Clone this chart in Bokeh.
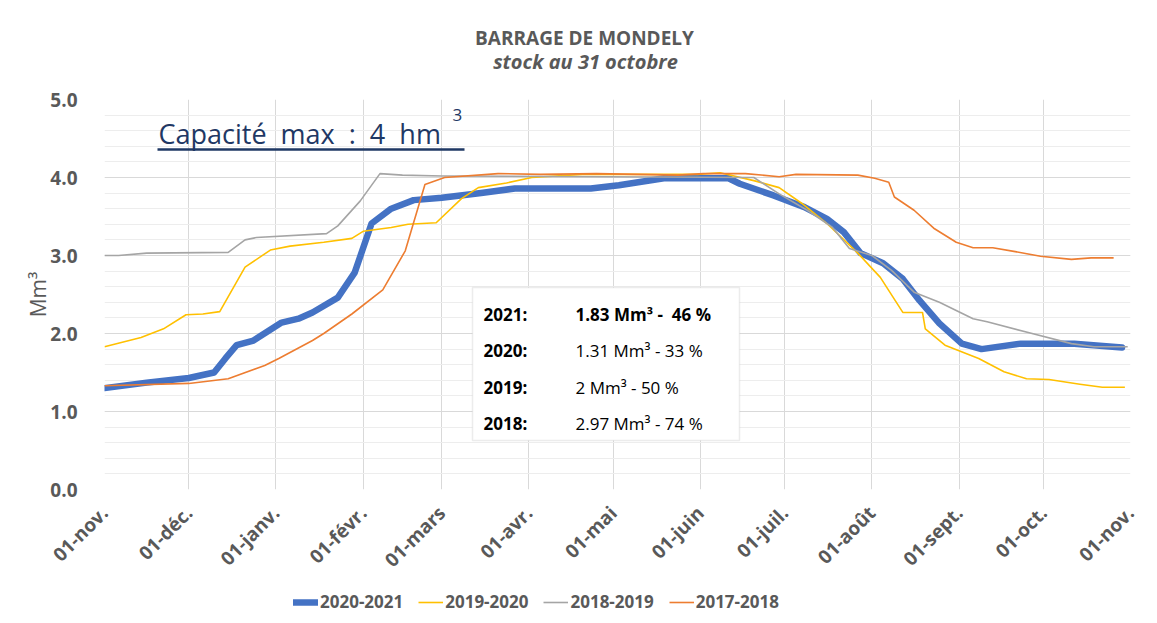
import math
from bokeh.plotting import figure
from bokeh.layouts import column
from bokeh.models import (Range1d, FixedTicker, Label, BoxAnnotation, Legend,
                          LegendItem, PrintfTickFormatter)
from bokeh.embed import file_html
from bokeh.resources import INLINE

# ---------------- data ----------------
month_days = [0, 30, 61, 92, 120, 151, 181, 212, 242, 273, 304, 334, 365]
month_labels = ["01-nov.", "01-déc.", "01-janv.", "01-févr.", "01-mars", "01-avr.",
                "01-mai", "01-juin", "01-juil.", "01-août", "01-sept.", "01-oct.", "01-nov."]

days_2021 = [0, 15, 30, 39, 43, 47, 53, 63, 69, 74, 83, 89, 95, 102, 110, 120, 134, 146,
             173, 183, 199, 222, 226, 238, 249, 257, 263, 269, 277, 284, 290, 297, 305,
             312, 326, 345, 362]
vals_2021 = [1.30, 1.37, 1.43, 1.50, 1.68, 1.85, 1.91, 2.14, 2.19, 2.27, 2.46, 2.78, 3.41,
             3.60, 3.71, 3.74, 3.80, 3.86, 3.86, 3.90, 3.99, 3.99, 3.92, 3.77, 3.62, 3.47,
             3.30, 3.03, 2.90, 2.70, 2.42, 2.13, 1.87, 1.80, 1.87, 1.87, 1.82]

days_2020 = [0, 13, 21, 29, 35, 41, 50, 59, 66, 78, 88, 92, 102, 108, 118, 127, 133, 143,
             152, 170, 200, 211, 219, 231, 240, 248, 257, 268, 276, 284, 291, 292, 299,
             311, 320, 328, 336, 347, 355, 363]
vals_2020 = [1.83, 1.95, 2.06, 2.24, 2.25, 2.28, 2.85, 3.07, 3.12, 3.17, 3.22, 3.31, 3.36,
             3.40, 3.42, 3.73, 3.87, 3.93, 4.00, 4.04, 4.04, 4.04, 4.06, 3.96, 3.87, 3.67,
             3.41, 3.03, 2.72, 2.27, 2.27, 2.06, 1.85, 1.68, 1.51, 1.42, 1.41, 1.35, 1.31,
             1.31]

days_2019 = [0, 5, 15, 44, 50, 54, 79, 83, 91, 98, 106, 120, 231, 240, 250, 259, 265, 273,
             280, 288, 297, 309, 314, 330, 344, 352, 364]
vals_2019 = [3.00, 3.00, 3.03, 3.04, 3.20, 3.23, 3.28, 3.38, 3.70, 4.05, 4.03, 4.02, 4.00,
             3.79, 3.58, 3.36, 3.09, 3.00, 2.81, 2.53, 2.40, 2.19, 2.15, 2.00, 1.87, 1.83,
             1.83]

days_2018 = [0, 30, 44, 57, 62, 74, 78, 88, 99, 107, 114, 121, 140, 155, 175, 204, 213,
             228, 240, 246, 268, 274, 279, 281, 288, 295, 303, 309, 316, 324, 333, 344, 351,
             359]
vals_2018 = [1.33, 1.36, 1.42, 1.59, 1.68, 1.91, 2.00, 2.25, 2.56, 3.06, 3.91, 4.00, 4.05,
             4.04, 4.05, 4.03, 4.05, 4.05, 4.01, 4.04, 4.03, 3.99, 3.94, 3.75, 3.58, 3.35,
             3.17, 3.10, 3.10, 3.05, 2.99, 2.95, 2.97, 2.97]

series_labels = ["2020-2021", "2019-2020", "2018-2019", "2017-2018"]
series_colors = ["#4472C4", "#FFC000", "#A5A5A5", "#ED7D31"]
series_widths = [6.5, 1.6, 1.6, 1.6]
y_ticks = [0, 1, 2, 3, 4, 5]

NB = "\u00a0"
title_text = "BARRAGE DE MONDELY"
subtitle_text = "stock au 31 octobre"
capacity_text = f"Capacité{NB} max{NB} :{NB} 4{NB} hm"
box_years = ["2021:", "2020:", "2019:", "2018:"]
box_values = [f"1.83 Mm³ -{NB} 46 %", "1.31 Mm³ - 33 %", "2 Mm³ - 50 %", "2.97 Mm³ - 74 %"]

# ---------------- layout ----------------
W = 1150
TOP_H = 80            # title strip: page y 0..80
MAIN_H = 510          # main chart: page y 80..590
LEG_H = 30            # legend strip: page y 590..620
FL, FR, FT, FB = 104, 1130, 99, 489       # frame edges in page pixels
X0, X1, Y0, Y1 = 0, 365, 0, 5

FONT = "Open Sans"
GREY_TXT = "#595959"
NAVY = "#1F3864"


def dx(px):
    return X0 + (px - FL) / (FR - FL) * (X1 - X0)


def dy(py):
    return Y0 + (FB - py) / (FB - FT) * (Y1 - Y0)


def strip(height, y_top):
    # frame aligned with the main chart's frame; data units = page pixels
    f = figure(width=W, height=height, output_backend="svg", toolbar_location=None,
               x_range=Range1d(FL, FR), y_range=Range1d(y_top + height, y_top),
               x_axis_type=None, y_axis_type=None,
               min_border_left=FL, min_border_right=W - FR,
               min_border_top=0, min_border_bottom=0)
    f.outline_line_color = None
    f.background_fill_color = "white"
    f.border_fill_color = "white"
    return f


# ---- title strip ----
ft = strip(TOP_H, 0)
ft.add_layout(Label(x=584, y=37, text=title_text, text_align="center",
                    text_baseline="middle", text_font=FONT, text_font_style="bold",
                    text_font_size="19px", text_color=GREY_TXT))
ft.add_layout(Label(x=585, y=61, text=subtitle_text, text_align="center",
                    text_baseline="middle", text_font=FONT, text_font_style="bold italic",
                    text_font_size="20px", text_color=GREY_TXT))

# ---- main chart ----
p = figure(width=W, height=MAIN_H, output_backend="svg", toolbar_location=None,
           x_range=Range1d(X0, X1), y_range=Range1d(Y0, Y1),
           min_border_left=FL, min_border_right=W - FR,
           min_border_top=FT - TOP_H, min_border_bottom=TOP_H + MAIN_H - FB)
p.outline_line_color = None
p.background_fill_color = "white"
p.border_fill_color = "white"

p.xaxis.ticker = FixedTicker(ticks=month_days)
p.xaxis.major_label_overrides = {d: l for d, l in zip(month_days, month_labels)}
p.xaxis.major_label_orientation = math.pi / 4
p.xaxis.major_label_standoff = 14
p.yaxis.ticker = FixedTicker(ticks=y_ticks, minor_ticks=[i / 5 for i in range(26)])
p.yaxis.formatter = PrintfTickFormatter(format="%.1f")
p.yaxis.major_label_standoff = 21
for ax in (p.xaxis[0], p.yaxis[0]):
    ax.axis_line_color = None
    ax.major_tick_line_color = None
    ax.minor_tick_line_color = None
    ax.major_label_text_font = FONT
    ax.major_label_text_font_style = "bold"
    ax.major_label_text_font_size = "19px"
    ax.major_label_text_color = GREY_TXT
p.yaxis.axis_label = "Mm³"
p.yaxis.axis_label_text_font = FONT
p.yaxis.axis_label_text_font_style = "normal"
p.yaxis.axis_label_text_font_size = "21px"
p.yaxis.axis_label_text_color = GREY_TXT
p.yaxis.axis_label_standoff = -5

p.xgrid.grid_line_color = "#D9D9D9"
p.ygrid.grid_line_color = "#D9D9D9"
p.ygrid.minor_grid_line_color = "#EDEDED"

series = [(days_2021, vals_2021), (days_2020, vals_2020),
          (days_2019, vals_2019), (days_2018, vals_2018)]
for (xs, ys), c, w in zip(series, series_colors, series_widths):
    p.line(xs, ys, line_color=c, line_width=w, line_join="round",
           line_cap="round" if w > 3 else "butt")

# capacity note
p.add_layout(Label(x=dx(158), y=dy(133), text=capacity_text, text_align="left",
                   text_baseline="middle", text_font=FONT, text_font_size="27px",
                   text_color=NAVY))
p.add_layout(Label(x=dx(452), y=dy(114), text="3", text_align="left",
                   text_baseline="middle", text_font=FONT, text_font_size="17px",
                   text_color=NAVY))
p.line([dx(157), dx(464)], [dy(149), dy(149)], line_color=NAVY, line_width=2.5)

# stats box
p.add_layout(BoxAnnotation(left=dx(472), right=dx(739), top=dy(287), bottom=dy(440),
                           fill_color="white", fill_alpha=1, line_color="#BFBFBF",
                           line_width=1.5))
row_y = [314, 350, 387, 423]
for i, (yr, val) in enumerate(zip(box_years, box_values)):
    p.add_layout(Label(x=dx(483), y=dy(row_y[i]), text=yr, text_align="left",
                       text_baseline="middle", text_font=FONT, text_font_style="bold",
                       text_font_size="17px", text_color="black"))
    p.add_layout(Label(x=dx(575), y=dy(row_y[i]), text=val, text_align="left",
                       text_baseline="middle", text_font=FONT,
                       text_font_style="bold" if i == 0 else "normal",
                       text_font_size="17px", text_color="black"))

# ---- legend strip (series re-drawn out of view, only their keys show) ----
fl = strip(LEG_H, TOP_H + MAIN_H)
leg_renderers = [fl.line(xs, ys, line_color=c, line_width=w,
                         line_cap="round" if w > 3 else "butt")
                 for (xs, ys), c, w in zip(series, series_colors, series_widths)]
legend = Legend(items=[LegendItem(label=l, renderers=[r]) for l, r in
                       zip(series_labels, leg_renderers)],
                orientation="horizontal",
                location=(293 - FL, TOP_H + MAIN_H + LEG_H - 613),
                padding=0, margin=0, spacing=15, label_standoff=2,
                glyph_width=25, glyph_height=20, label_height=20,
                border_line_color=None, background_fill_alpha=0,
                label_text_font=FONT, label_text_font_style="bold",
                label_text_font_size="17px", label_text_color=GREY_TXT)
fl.add_layout(legend)

layout = column(ft, p, fl, spacing=0)
open("out.html", "w").write(file_html(layout, INLINE))
